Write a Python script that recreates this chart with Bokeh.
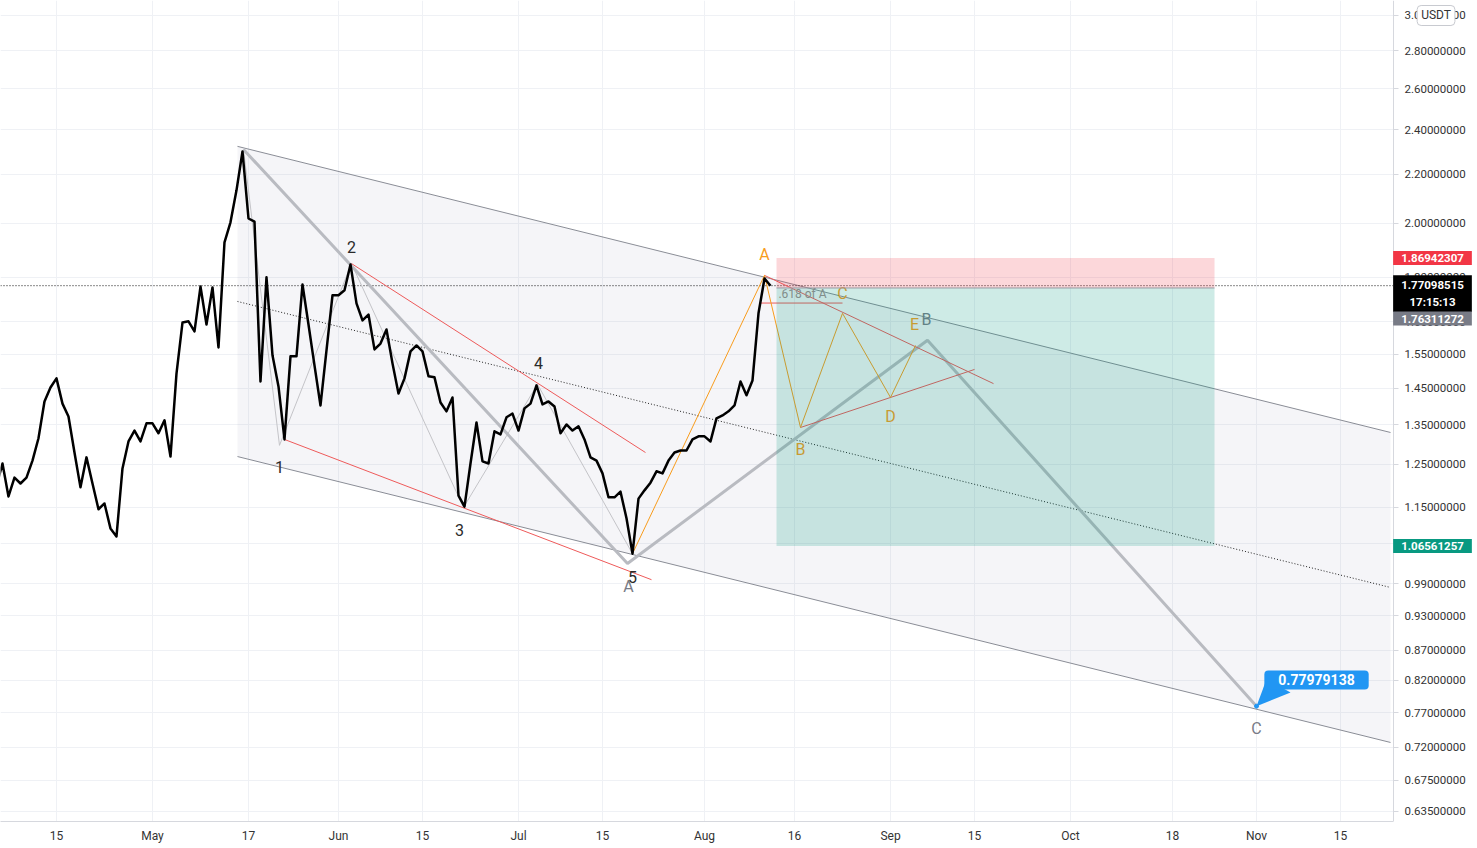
import pandas as pd
from bokeh.plotting import figure
from bokeh.models import (FixedTicker, PrintfTickFormatter, CustomJSTickFormatter,
                          Range1d, Label, ColumnDataSource)
from bokeh.embed import file_html
from bokeh.resources import INLINE
from bokeh.core.properties import value

FONT = "Roboto"

# ---------------- data ----------------
series_start = "2021-04-05"
close = [
    1.199, 1.252, 1.174, 1.218, 1.204, 1.218, 1.259, 1.315, 1.413, 1.452,
    1.478, 1.407, 1.372, 1.279, 1.195, 1.267, 1.204, 1.145, 1.158, 1.103,
    1.086, 1.240, 1.307, 1.335, 1.307, 1.354,                      # Apr 5-30
    1.354, 1.328, 1.362, 1.269, 1.492, 1.648, 1.652, 1.620, 1.768, 1.642,
    1.765, 1.570, 1.927, 2.004, 2.133, 2.301, 2.019, 2.007, 1.469, 1.800,
    1.546, 1.455, 1.312, 1.543, 1.543, 1.775, 1.642, 1.516, 1.402, 1.561,
    1.738,                                                          # May
    1.738, 1.755, 1.846, 1.711, 1.655, 1.674, 1.564, 1.582, 1.626, 1.522,
    1.435, 1.478, 1.558, 1.576, 1.558, 1.484, 1.481, 1.410, 1.386, 1.424,
    1.176, 1.151, 1.252, 1.356, 1.257, 1.252, 1.333, 1.325, 1.370, 1.380,  # Jun
    1.335, 1.394, 1.407, 1.458, 1.405, 1.413, 1.399, 1.328, 1.351, 1.335,
    1.346, 1.312, 1.267, 1.259, 1.228, 1.172, 1.172, 1.185, 1.125, 1.050,
    1.169, 1.188, 1.206, 1.233, 1.228, 1.259, 1.279, 1.284, 1.284, 1.312,
    1.320,                                                          # Jul
    1.320, 1.307, 1.367, 1.375, 1.386, 1.402, 1.469, 1.430, 1.472, 1.678,
    1.796, 1.77098515,                                              # Aug 1-12
]

price_ticks = [0.635, 0.675, 0.72, 0.77, 0.82, 0.87, 0.93, 0.99, 1.07, 1.15,
               1.25, 1.35, 1.45, 1.55, 1.65, 1.8, 2.0, 2.2, 2.4, 2.6, 2.8, 3.0]
date_ticks = ["2021-04-15", "2021-05-01", "2021-05-17", "2021-06-01", "2021-06-15",
              "2021-07-01", "2021-07-15", "2021-08-01", "2021-08-16", "2021-09-01",
              "2021-09-15", "2021-10-01", "2021-10-18", "2021-11-01", "2021-11-15"]
date_tick_labels = ["15", "May", "17", "Jun", "15", "Jul", "15", "Aug", "16", "Sep",
                    "15", "Oct", "18", "Nov", "15"]

# parallel channel
channel_dates = ["2021-05-15 04:00", "2021-11-23 08:00"]
channel_top = [2.324, 1.330]
channel_bottom = [1.269, 0.7265]

# Elliott impulse 1-5
impulse_dates = ["2021-05-16 04:00", "2021-05-22 04:00", "2021-06-03 04:00",
                 "2021-06-21 20:00", "2021-07-04 04:00", "2021-07-20 00:00"]
impulse_prices = [2.310, 1.297, 1.849, 1.149, 1.461, 1.050]
impulse_labels = ["", "1", "2", "3", "4", "5"]

# corrective ABC
abc_dates = ["2021-05-16 04:00", "2021-07-19 04:00", "2021-09-07 04:00", "2021-11-01 00:00"]
abc_prices = [2.310, 1.030, 1.592, 0.77979138]
abc_labels = ["", "A", "B", "C"]

# triangle A-B-C-D-E
tri_dates = ["2021-07-20 00:00", "2021-08-11 00:00", "2021-08-17 00:00",
             "2021-08-24 00:00", "2021-09-01 00:00", "2021-09-05 04:00"]
tri_prices = [1.050, 1.807, 1.343, 1.678, 1.424, 1.576]
tri_labels = ["", "A", "B", "C", "D", "E"]

# trend lines (red)
trend_dates = [["2021-06-03 04:00", "2021-07-22 04:00"],
               ["2021-05-23 00:00", "2021-07-23 04:00"],
               ["2021-08-11 00:00", "2021-09-18 04:00"],
               ["2021-08-17 00:00", "2021-09-15 00:00"],
               ["2021-08-10 08:00", "2021-08-24 00:00"]]
trend_prices = [[1.849, 1.279], [1.312, 0.998], [1.807, 1.463],
                [1.343, 1.504], [1.712, 1.712]]

# short position tool
pos_dates = ["2021-08-13", "2021-10-25"]
stop_price = 1.86942307
entry_price = 1.76311272
target_price = 1.06561257
last_price = 1.77098515
target_c = 0.77979138

# ---------------- figure ----------------
base = pd.Timestamp("2021-08-01")
def D(days):
    return base + pd.Timedelta(days=days)
x_start = D(-117.33)
x_axis_at = D(114.83)      # position of the price scale
x_end = D(128.83)          # right edge of the window

p = figure(width=1477, height=848, x_axis_type="datetime", y_axis_type="log",
           y_axis_location="right",
           x_range=Range1d(x_start, x_end), y_range=Range1d(0.6227, 3.089),
           output_backend="svg", toolbar_location=None,
           min_border_left=0, min_border_top=0, min_border_right=0, min_border_bottom=27,
           background_fill_color="white", border_fill_color="white",
           outline_line_color=None)

tick_ms = [pd.Timestamp(d).value / 1e6 for d in date_ticks]
p.xaxis.ticker = FixedTicker(ticks=tick_ms)
p.xaxis.formatter = CustomJSTickFormatter(args=dict(tvals=tick_ms, tlabels=date_tick_labels), code="""
    for (let i = 0; i < tvals.length; i++) {
        if (Math.abs(tvals[i] - tick) < 3600000) return tlabels[i];
    }
    return "";
""")
p.xaxis.bounds = (x_start.value / 1e6, x_axis_at.value / 1e6)
p.yaxis.ticker = FixedTicker(ticks=price_ticks, minor_ticks=[])
p.yaxis.formatter = PrintfTickFormatter(format="%.8f")
p.yaxis.fixed_location = x_axis_at.value / 1e6

for ax in (p.xaxis[0], p.yaxis[0]):
    ax.axis_line_color = "#d6d8de"
    ax.major_tick_line_color = "#d6d8de"
    ax.minor_tick_line_color = None
    ax.major_label_text_font = FONT
    ax.major_label_text_color = "#333333"
    ax.major_tick_in = 0
p.xaxis.major_tick_out = 0
p.xaxis.major_label_text_font_size = "12px"
p.xaxis.major_label_standoff = 7
p.yaxis.major_tick_out = 5
p.yaxis.major_label_text_font_size = "11.5px"
p.yaxis.major_label_standoff = 6

p.xgrid.grid_line_color = "#eff1f5"
p.ygrid.grid_line_color = "#eff1f5"

# blank price-scale area (hides the grid behind the scale)
p.quad(left=[x_axis_at], right=[D(140)], bottom=[0.5], top=[4.0],
       fill_color="white", line_color=None)

# channel
cx = pd.to_datetime(channel_dates)
channel_mid = [(a * b) ** 0.5 for a, b in zip(channel_top, channel_bottom)]
p.patch(list(cx) + list(cx[::-1]), channel_top + channel_bottom[::-1],
        fill_color="#7d80a0", fill_alpha=0.08, line_color=None)
p.line(cx, channel_top, line_color="#8a8d96", line_width=1)
p.line(cx, channel_bottom, line_color="#8a8d96", line_width=1)
p.line(cx, channel_mid, line_color="#222222", line_width=1, line_dash="1 2")

# current price dotted line
p.line([x_start, x_axis_at], [last_price, last_price], line_color="#111111",
       line_width=1, line_dash="1 2")

# impulse thin grey path
p.line(pd.to_datetime(impulse_dates), impulse_prices, line_color="#c4c4c8", line_width=1)
# abc thick grey path
p.line(pd.to_datetime(abc_dates), abc_prices, line_color="#b9bbc1", line_width=3)
# red trend lines
for td, tp in zip(trend_dates, trend_prices):
    p.line(pd.to_datetime(td), tp, line_color="#ee5a5a", line_width=1)
# orange triangle
p.line(pd.to_datetime(tri_dates), tri_prices, line_color="#f89c1c", line_width=1)

# price
dates = pd.date_range(series_start, periods=len(close), freq="D")
p.line(dates, close, line_color="#000000", line_width=2.5, line_join="round")

# labels
def labels(dts, prices, texts, dx, dy, color, size="16px"):
    src = ColumnDataSource(dict(x=pd.to_datetime(dts), y=prices, t=texts, dx=dx, dy=dy))
    p.text(x="x", y="y", text="t", x_offset="dx", y_offset="dy", source=src,
           text_color=color, text_font=value(FONT), text_font_size=size,
           text_align="center", text_baseline="middle")

labels(impulse_dates, impulse_prices, impulse_labels,
       [0, 0, 0, -4, 1, 0], [0, 22, -17, 23, -21, 23], "#2a2a2a")
labels(abc_dates, abc_prices, abc_labels, [0, 1, -1, 0], [0, 23, -21, 22], "#787b86")
labels(tri_dates, tri_prices, tri_labels, [0, 0, 0, 0, 0, -1], [0, -21, 22, -20, 19, -21], "#f89c1c")
p.text(x=[D(16.33)], y=[1.741], text=[".618 of A"], text_color="#a08a8c",
       text_font=value(FONT), text_font_size="12px", text_align="center",
       text_baseline="middle")

# position tool (drawn over)
px = pd.to_datetime(pos_dates)
p.quad(left=[px[0]], right=[px[1]], bottom=[entry_price], top=[stop_price],
       fill_color="#f23645", fill_alpha=0.2, line_color=None)
p.quad(left=[px[0]], right=[px[1]], bottom=[target_price], top=[entry_price],
       fill_color="#089981", fill_alpha=0.2, line_color=None)
p.line(px, [entry_price, entry_price], line_color="#9598a1", line_width=1)

# blue callout at C
p.patch([D(92), D(93.67), D(97.67)], [target_c, 0.822, 0.801],
        fill_color="#2196f3", line_color=None)
p.scatter([D(92)], [target_c], size=4, color="#2196f3")
p.add_layout(Label(x=D(102), y=0.8207, text=f"{target_c:.8f}", text_color="white",
                   text_font=FONT, text_font_size="14px", text_font_style="bold",
                   text_align="center", text_baseline="middle",
                   background_fill_color="#2196f3", border_radius=4,
                   padding=dict(x=14, y=4)))

# price axis labels
def axis_label(y, txt, bg, color="white", bold=True):
    p.add_layout(Label(x=D(121.33), y=y, text=txt, text_color=color,
                       text_font=FONT, text_font_size="11.5px",
                       text_font_style="bold" if bold else "normal",
                       text_align="center", text_baseline="middle",
                       background_fill_color=bg, padding=dict(x=8, y=3)))

axis_label(stop_price, f"{stop_price:.8f}", "#f23645")
axis_label(1.744, f"{last_price:.8f}\n17:15:13", "#000000")
axis_label(1.661, f"{entry_price:.8f}", "#787b86")
axis_label(target_price, f"{target_price:.8f}", "#089981")
p.add_layout(Label(x=D(121.92), y=3.0, text="USDT", text_color="#333333",
                   text_font=FONT, text_font_size="12px",
                   text_align="center", text_baseline="middle",
                   background_fill_color="white", border_line_color="#c8cad0",
                   border_radius=4, padding=dict(x=4, y=3)))

open("out.html", "w").write(file_html(p, INLINE))
